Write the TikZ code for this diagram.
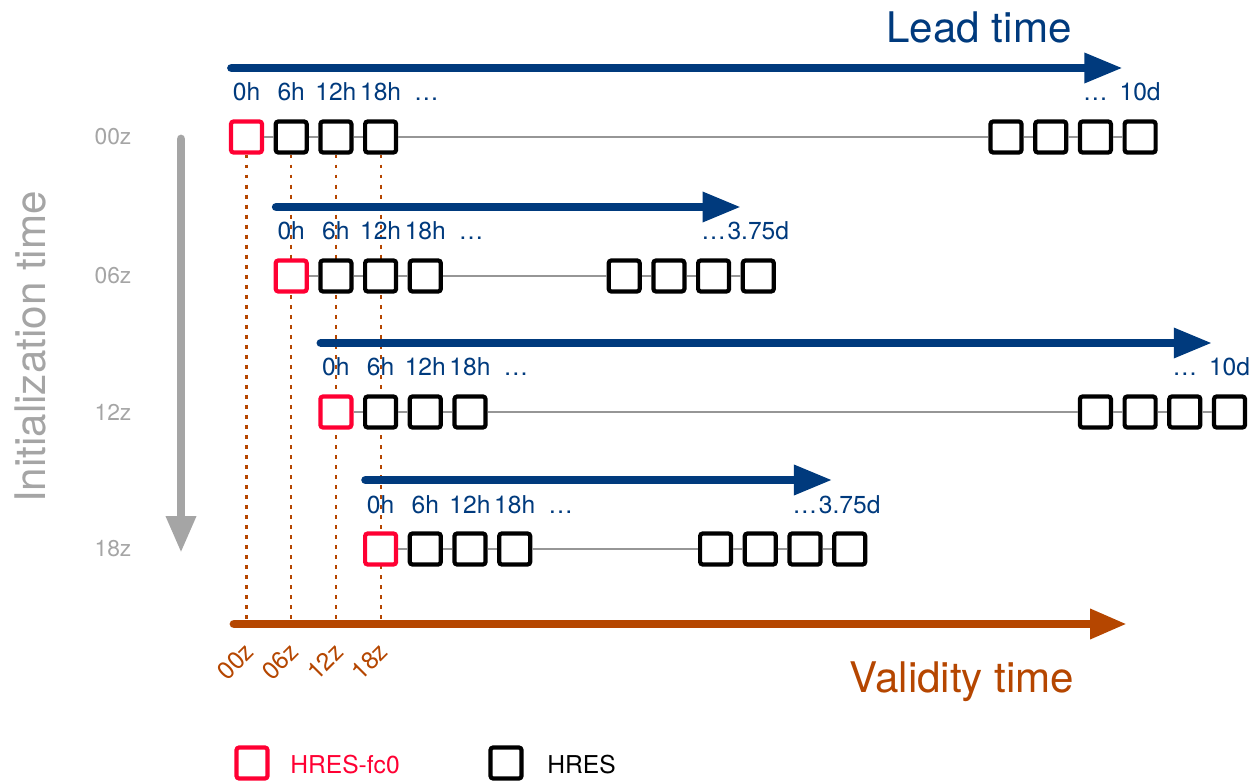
\documentclass[tikz,border=0pt]{standalone}
\usepackage{fontspec}
\setmainfont{TeX Gyre Heros}
\usetikzlibrary{arrows.meta,backgrounds}
\definecolor{leadblue}{RGB}{0,58,125}
\definecolor{validbrown}{RGB}{181,70,0}
\definecolor{fcred}{RGB}{255,0,51}
\definecolor{initgray}{RGB}{165,165,165}
\definecolor{linkgray}{RGB}{150,150,150}
\tikzset{
  hbox/.style={draw=black,fill=white,line width=2.4pt,rounded corners=1.5pt,minimum size=0.62cm,inner sep=0pt},
  fcbox/.style={hbox,draw=fcred},
  link/.style={draw=linkgray,line width=0.7pt},
  hlab/.style={text=leadblue,anchor=base,inner sep=0pt,font=\fontsize{14}{16}\selectfont},
  rowlab/.style={text=initgray,inner sep=0pt,font=\fontsize{13}{15}\selectfont},
  vlab/.style={text=validbrown,rotate=45,inner sep=0pt,font=\fontsize{14}{16}\selectfont},
  titlelab/.style={inner sep=0pt,font=\fontsize{24}{28}\selectfont},
  legtext/.style={anchor=base west,inner sep=0pt,font=\fontsize{14}{16}\selectfont},
  leadarrow/.style={draw=leadblue,line width=5pt,line cap=round,-{Triangle[length=22pt,width=16pt]}},
  validarrow/.style={draw=validbrown,line width=5pt,line cap=round,-{Triangle[length=21pt,width=16pt]}},
  initarrow/.style={draw=initgray,line width=5pt,line cap=round,-{Triangle[length=21pt,width=16pt]}},
  guide/.style={draw=validbrown,line width=1.2pt,dash pattern=on 2.2pt off 3.5pt}
}
\begin{document}
\begin{tikzpicture}[x=0.02cm,y=-0.02cm]
\useasboundingbox (0,0) rectangle (1257,783);
\node[titlelab,text=leadblue,anchor=base] (leadtitle) at (979,43) {Lead time};
\node[titlelab,text=validbrown,anchor=base] (validtitle) at (962,692) {Validity time};
\node[titlelab,text=initgray,rotate=90] (inittitle) at (30,347) {Initialization time};
\foreach \r/\y/\t/\x/\g/\e in {a/137/00z/246.5/759.5/10d, b/276/06z/291.2/333/3.75d, c/412/12z/335.9/759.5/10d, d/549/18z/380.6/335/3.75d}{
  \node[rowlab] (\r lab) at (113,\y) {\t};
  \node[fcbox] (\r1) at (\x,\y) {};
  \foreach \i in {2,3,4}
    \node[hbox] (\r\i) at (\x+\i*44.7-44.7,\y) {};
  \foreach \i in {5,...,8}
    \node[hbox] (\r\i) at (\x+\g+\i*44.7-5*44.7,\y) {};
  \foreach \i [count=\j from 2] in {1,...,7}
    \draw[link] (\r\i) -- (\r\j);
  \node[hlab] (\r h0) at (\x,\y-36) {0h};
  \node[hlab] (\r h6) at (\x+44.7,\y-36) {6h};
  \node[hlab] (\r h12) at (\x+89.4,\y-36) {12h};
  \node[hlab] (\r h18) at (\x+134.1,\y-36) {18h};
  \node[hlab] (\r dl) at (\x+180,\y-36) {…};
  \node[hlab] (\r dr) at (\x+\g+89.4,\y-36) {…};
  \node[hlab] (\r end) at (\x+\g+134.1,\y-36) {\e};
  \coordinate (\r s) at (\x-15,\y-69);
  \coordinate (\r t) at (\x+\g+117,\y-69);
  \draw[leadarrow] (\r s) -- (\r t);
}
\begin{pgfonlayer}{background}
\foreach \i/\t in {1/00z,2/06z,3/12z,4/18z}{
  \path (a\i.south) ++(0,464) coordinate (v\i);
  \draw[guide] (a\i.south) -- (v\i);
  \node[vlab] (v\i lab) at ([shift={(-11,43)}]v\i) {\t};
}
\end{pgfonlayer}
\coordinate (vs) at (234,624);
\coordinate (ve) at (1127,624);
\draw[validarrow] (vs) -- (ve);
\coordinate (is) at (181,139);
\coordinate (ie) at (181,553);
\draw[initarrow] (is) -- (ie);
\node[fcbox] (legfc) at (252,763) {};
\node[legtext,text=fcred] (legfctext) at (290,773) {HRES-fc0};
\node[hbox] (leghres) at (506,763) {};
\node[legtext] (leghrestext) at (547,773) {HRES};
\end{tikzpicture}
\end{document}
